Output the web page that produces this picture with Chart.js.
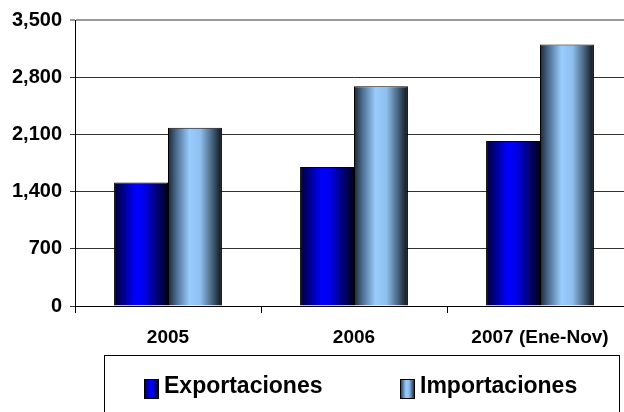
<!DOCTYPE html>
<html>
<head>
<meta charset="utf-8">
<script src="https://cdn.jsdelivr.net/npm/chart.js@4/dist/chart.umd.min.js"></script>
<style>
  html, body { margin: 0; padding: 0; background: #fff; overflow: hidden; }
  #wrap { width: 640px; height: 412px; }
</style>
</head>
<body>
<div id="wrap"><canvas id="chart" width="640" height="412"></canvas></div>
<script>
const labels = ['2005', '2006', '2007 (Ene-Nov)'];
const exportaciones = [1510, 1700, 2020];
const importaciones = [2180, 2690, 3200];
const yTicks = [0, 700, 1400, 2100, 2800, 3500];

const FONT = '"Liberation Sans", Arial, sans-serif';
const barShare = 0.58;

// colour stops for the cylinder-like shading of each series
const expStops = [[0, '#000033'], [0.4, '#0000ff'], [0.55, '#0000ee'], [1, '#000018']];
const impStops = [[0, '#1c2733'], [0.15, '#4a6a8c'], [0.4, '#99ccff'], [0.6, '#8fbfee'], [0.8, '#4d6c8a'], [1, '#0c1218']];

function makeGradient(c, x0, x1, stops) {
    const g = c.createLinearGradient(x0, 0, x1, 0);
    stops.forEach(s => g.addColorStop(s[0], s[1]));
    return g;
}

function barGradient(stops) {
    return function (ctx) {
        const chart = ctx.chart;
        const xs = chart.scales.x;
        const fallback = stops[2][1];
        if (!xs || ctx.type !== 'data' || !chart.chartArea) return fallback;
        const cw = xs.width / labels.length;
        const bw = cw * barShare / 2;
        const center = xs.getPixelForValue(ctx.dataIndex);
        const left = center - bw + ctx.datasetIndex * bw;
        if (!isFinite(left) || !isFinite(bw) || bw <= 0) return fallback;
        return makeGradient(chart.ctx, left, left + bw, stops);
    };
}

// boxed legend under the axis
const boxLegend = {
    id: 'boxLegend',
    afterDraw(chart) {
        const c = chart.ctx;
        c.save();
        c.strokeStyle = '#000';
        c.lineWidth = 1;
        c.strokeRect(104.5, 355.5, 515, 80);
        const items = [
            { x: 144, stops: expStops },
            { x: 400, stops: impStops }
        ];
        c.font = 'bold 23px ' + FONT;
        c.textBaseline = 'alphabetic';
        c.textAlign = 'left';
        chart.data.datasets.forEach((ds, i) => {
            const it = items[i];
            c.fillStyle = makeGradient(c, it.x, it.x + 15, it.stops);
            c.fillRect(it.x, 379, 15, 20);
            c.strokeStyle = '#000';
            c.strokeRect(it.x + 0.5, 379.5, 14, 19);
            c.fillStyle = '#000';
            c.fillText(ds.label, it.x + 20, 393);
        });
        c.restore();
    }
};

new Chart(document.getElementById('chart').getContext('2d'), {
    type: 'bar',
    data: {
        labels: labels,
        datasets: [
            {
                label: 'Exportaciones',
                data: exportaciones,
                backgroundColor: barGradient(expStops),
                borderColor: '#000',
                borderWidth: 1,
                borderSkipped: 'bottom'
            },
            {
                label: 'Importaciones',
                data: importaciones,
                backgroundColor: barGradient(impStops),
                borderColor: '#000',
                borderWidth: 1,
                borderSkipped: 'bottom'
            }
        ]
    },
    options: {
        responsive: false,
        animation: false,
        datasets: {
            bar: { categoryPercentage: barShare, barPercentage: 1 }
        },
        layout: { padding: { top: 20, right: 7, left: 0, bottom: 0 } },
        plugins: {
            legend: { display: false },
            tooltip: { enabled: false }
        },
        scales: {
            x: {
                afterFit: s => { s.height = 106; },
                grid: {
                    offset: true,
                    drawOnChartArea: false,
                    tickLength: 7,
                    color: '#000'
                },
                border: { color: '#000', width: 1 },
                ticks: {
                    color: '#000',
                    padding: 13,
                    font: { family: FONT, size: 19, weight: 'bold' }
                }
            },
            y: {
                min: 0,
                max: 3500,
                afterFit: s => { s.width = 75; },
                afterBuildTicks: s => { s.ticks = yTicks.map(v => ({ value: v })); },
                grid: {
                    tickLength: 5,
                    color: ctx => (ctx.tick && ctx.tick.value === 3500 ? '#999' : '#333'),
                    lineWidth: ctx => (ctx.tick && ctx.tick.value === 3500 ? 2 : 1)
                },
                border: { color: '#000', width: 1 },
                ticks: {
                    color: '#000',
                    padding: 8,
                    font: { family: FONT, size: 20, weight: 'bold' },
                    callback: v => v.toLocaleString('en-US')
                }
            }
        }
    },
    plugins: [boxLegend]
});
</script>
</body>
</html>
